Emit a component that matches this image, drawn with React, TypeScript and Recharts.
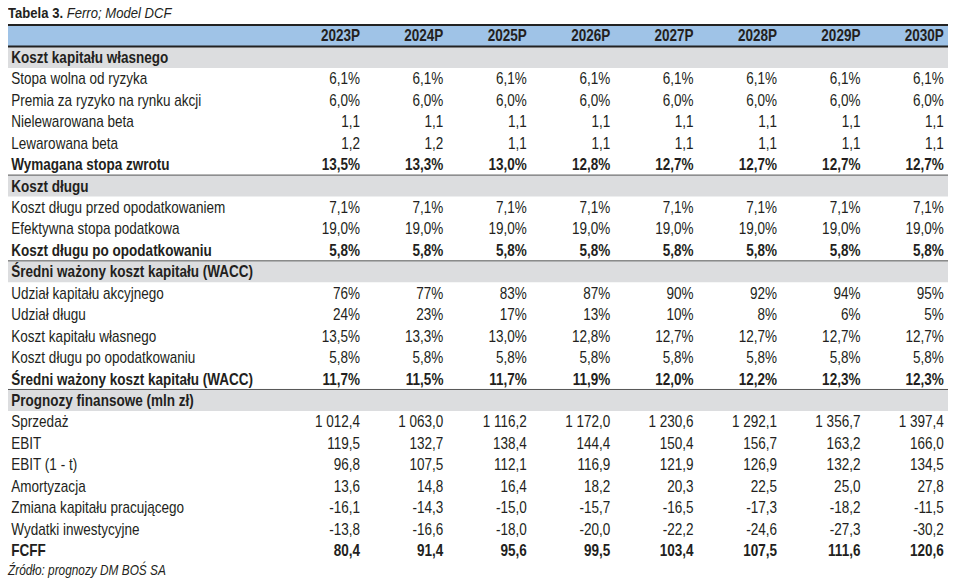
import React from 'react';
import { ScatterChart, Scatter, XAxis, YAxis, ReferenceArea, ReferenceLine } from 'recharts';

const years = ['2023P', '2024P', '2025P', '2026P', '2027P', '2028P', '2029P', '2030P'];

const stopaWolna = [6.1, 6.1, 6.1, 6.1, 6.1, 6.1, 6.1, 6.1];
const premia = [6.0, 6.0, 6.0, 6.0, 6.0, 6.0, 6.0, 6.0];
const betaNielew = [1.1, 1.1, 1.1, 1.1, 1.1, 1.1, 1.1, 1.1];
const betaLew = [1.2, 1.2, 1.1, 1.1, 1.1, 1.1, 1.1, 1.1];
const wymagana = [13.5, 13.3, 13.0, 12.8, 12.7, 12.7, 12.7, 12.7];
const kosztPrzed = [7.1, 7.1, 7.1, 7.1, 7.1, 7.1, 7.1, 7.1];
const stopaPod = [19.0, 19.0, 19.0, 19.0, 19.0, 19.0, 19.0, 19.0];
const kosztPo = [5.8, 5.8, 5.8, 5.8, 5.8, 5.8, 5.8, 5.8];
const udzialKap = [76, 77, 83, 87, 90, 92, 94, 95];
const udzialDlugu = [24, 23, 17, 13, 10, 8, 6, 5];
const wacc = [11.7, 11.5, 11.7, 11.9, 12.0, 12.2, 12.3, 12.3];
const sprzedaz = [1012.4, 1063.0, 1116.2, 1172.0, 1230.6, 1292.1, 1356.7, 1397.4];
const ebit = [119.5, 132.7, 138.4, 144.4, 150.4, 156.7, 163.2, 166.0];
const ebitNet = [96.8, 107.5, 112.1, 116.9, 121.9, 126.9, 132.2, 134.5];
const amortyzacja = [13.6, 14.8, 16.4, 18.2, 20.3, 22.5, 25.0, 27.8];
const zmianaKap = [-16.1, -14.3, -15.0, -15.7, -16.5, -17.3, -18.2, -11.5];
const capex = [-13.8, -16.6, -18.0, -20.0, -22.2, -24.6, -27.3, -30.2];
const fcff = [80.4, 91.4, 95.6, 99.5, 103.4, 107.5, 111.6, 120.6];

// Arial-metric font squeezed horizontally to look like Arial Narrow
const FONT = "'Liberation Sans', Arial, sans-serif";
const SQUEEZE = 0.845;
const TEXT = '#231f20';
const BLUE = '#9fc3e7';
const GRAY = '#dcdddf';

const num1 = (v: number) => {
  const [i, d] = Math.abs(v).toFixed(1).split('.');
  const grouped = i.replace(/\B(?=(\d{3})+(?!\d))/g, ' ');
  return (v < 0 ? '-' : '') + grouped + ',' + d;
};
const pct1 = (v: number) => num1(v) + '%';
const pct0 = (v: number) => v + '%';

type Kind = 'header' | 'section' | 'bold' | 'normal' | 'total';
interface Row { label: string; kind: Kind; values?: number[]; fmt?: (v: number) => string }

const rows: Row[] = [
  { label: '', kind: 'header' },
  { label: 'Koszt kapitału własnego', kind: 'section' },
  { label: 'Stopa wolna od ryzyka', kind: 'normal', values: stopaWolna, fmt: pct1 },
  { label: 'Premia za ryzyko na rynku akcji', kind: 'normal', values: premia, fmt: pct1 },
  { label: 'Nielewarowana beta', kind: 'normal', values: betaNielew, fmt: num1 },
  { label: 'Lewarowana beta', kind: 'normal', values: betaLew, fmt: num1 },
  { label: 'Wymagana stopa zwrotu', kind: 'bold', values: wymagana, fmt: pct1 },
  { label: 'Koszt długu', kind: 'section' },
  { label: 'Koszt długu przed opodatkowaniem', kind: 'normal', values: kosztPrzed, fmt: pct1 },
  { label: 'Efektywna stopa podatkowa', kind: 'normal', values: stopaPod, fmt: pct1 },
  { label: 'Koszt długu po opodatkowaniu', kind: 'bold', values: kosztPo, fmt: pct1 },
  { label: 'Średni ważony koszt kapitału (WACC)', kind: 'section' },
  { label: 'Udział kapitału akcyjnego', kind: 'normal', values: udzialKap, fmt: pct0 },
  { label: 'Udział długu', kind: 'normal', values: udzialDlugu, fmt: pct0 },
  { label: 'Koszt kapitału własnego', kind: 'normal', values: wymagana, fmt: pct1 },
  { label: 'Koszt długu po opodatkowaniu', kind: 'normal', values: kosztPo, fmt: pct1 },
  { label: 'Średni ważony koszt kapitału (WACC)', kind: 'bold', values: wacc, fmt: pct1 },
  { label: 'Prognozy finansowe (mln zł)', kind: 'section' },
  { label: 'Sprzedaż', kind: 'normal', values: sprzedaz, fmt: num1 },
  { label: 'EBIT', kind: 'normal', values: ebit, fmt: num1 },
  { label: 'EBIT (1 - t)', kind: 'normal', values: ebitNet, fmt: num1 },
  { label: 'Amortyzacja', kind: 'normal', values: amortyzacja, fmt: num1 },
  { label: 'Zmiana kapitału pracującego', kind: 'normal', values: zmianaKap, fmt: num1 },
  { label: 'Wydatki inwestycyjne', kind: 'normal', values: capex, fmt: num1 },
  { label: 'FCFF', kind: 'total', values: fcff, fmt: num1 },
];

const rowIds = rows.map((_, i) => `r${i}`);
const LABEL_COL = -3.18;

// one point per cell: label column + 8 year columns
const labelPoints = rows.map((r, i) => ({ x: LABEL_COL, y: rowIds[i], text: r.label, bold: r.kind !== 'normal', anchor: 'start' }));
const cellPoints = rows.flatMap((r, i) =>
  years.map((yr, k) => ({
    x: k + 1,
    y: rowIds[i],
    text: r.kind === 'header' ? yr : r.values && r.fmt ? r.fmt(r.values[k]) : '',
    bold: r.kind !== 'normal',
    anchor: 'end',
  }))
);

const CellText = (props: any) => {
  const { cx, cy, payload } = props;
  if (!payload.text) return <g />;
  return (
    <text
      x={0}
      y={0}
      dy="0.36em"
      transform={`translate(${cx},${cy}) scale(${SQUEEZE},1)`}
      textAnchor={payload.anchor}
      fontFamily={FONT}
      fontSize={16}
      fontWeight={payload.bold ? 700 : 400}
      fill={TEXT}
    >
      {payload.text}
    </text>
  );
};

export default function App() {
  return (
    <div style={{ position: 'absolute', left: 0, top: 0, width: 964, height: 579, background: '#fff', fontFamily: FONT, color: TEXT }}>
      <div style={{ position: 'absolute', left: 8, top: 4, fontSize: 15.5, whiteSpace: 'nowrap', transform: `scaleX(${SQUEEZE})`, transformOrigin: 'left top' }}>
        <b>Tabela 3.</b> <i>Ferro; Model DCF</i>
      </div>
      <ScatterChart width={964} height={579} margin={{ top: 25, right: 16, bottom: 18, left: 8 }}>
        <XAxis type="number" dataKey="x" domain={[-3.22, 8.05]} hide />
        <YAxis type="category" dataKey="y" allowDuplicatedCategory={false} reversed hide />
        {rows.map((r, i) =>
          r.kind === 'header' || r.kind === 'section' || r.kind === 'total' ? (
            <ReferenceArea key={`bg${i}`} y1={rowIds[i]} y2={rowIds[i]} fill={r.kind === 'header' ? BLUE : GRAY} fillOpacity={1} stroke="none" />
          ) : null
        )}
        {rows.map((r, i) =>
          r.kind === 'section' && i > 1 ? (
            <ReferenceLine key={`ln${i}`} y={rowIds[i]} position="start" stroke="#555" strokeWidth={1} />
          ) : null
        )}
        <ReferenceLine y={rowIds[0]} position="start" stroke="#222" strokeWidth={2} />
        <ReferenceLine y={rowIds[0]} position="end" stroke="#222" strokeWidth={2} />
        <ReferenceLine y={rowIds[rows.length - 1]} position="end" stroke="#444" strokeWidth={2} />
        <Scatter data={labelPoints} shape={CellText} isAnimationActive={false} />
        <Scatter data={cellPoints} shape={CellText} isAnimationActive={false} />
      </ScatterChart>
      <div style={{ position: 'absolute', left: 8, top: 562, fontSize: 14, lineHeight: '16px', fontStyle: 'italic', whiteSpace: 'nowrap', transform: `scaleX(${SQUEEZE})`, transformOrigin: 'left top' }}>
        Źródło: prognozy DM BOŚ SA
      </div>
    </div>
  );
}
